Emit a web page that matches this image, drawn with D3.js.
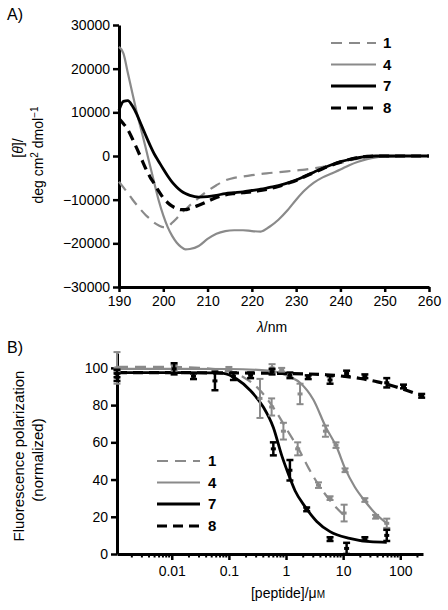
<!DOCTYPE html>
<html><head><meta charset="utf-8">
<script src="https://cdn.jsdelivr.net/npm/d3@7"></script>
<style>
body{margin:0;background:#fff;}
text{font-family:"Liberation Sans",Arial,sans-serif;fill:#000;}
</style></head>
<body><svg id="c" width="448" height="610"></svg>
<script>
// ---------- Panel A data (CD spectra) ----------
const wavelengths = [190,191,192,193,194,195,196,197,198,199,200,201,202,203,204,205,206,208,210,212,214,216,218,220,222,224,226,228,230,232,234,236,238,240,242,244,246,248,250,255,260];
const cd1 = [-5900,-7200,-8500,-9900,-11200,-12400,-13500,-14400,-15300,-15900,-16300,-16200,-15300,-14300,-13200,-12200,-11300,-9600,-8000,-6700,-5600,-5000,-4700,-4400,-4100,-3900,-3700,-3500,-3300,-3100,-2800,-2500,-2000,-1600,-1100,-600,-300,-200,-100,0,0];
const cd4 = [25000,23500,19000,14500,10000,6000,2000,-2200,-6300,-10300,-13600,-16300,-18300,-19800,-20800,-21400,-21300,-20600,-19000,-17800,-17200,-17000,-17000,-17200,-17300,-16200,-14600,-12500,-10000,-7800,-6100,-4900,-4000,-3100,-2100,-1300,-700,-300,-100,0,0];
const cd7 = [10500,12500,12700,11500,9600,7200,4800,2500,400,-1300,-3000,-4600,-6000,-7100,-8000,-8600,-9000,-9400,-9300,-9000,-8600,-8400,-8200,-7900,-7600,-7200,-6800,-6200,-5500,-4600,-3700,-2800,-2000,-1300,-800,-400,-100,0,0,0,0];
const cd8 = [8600,7400,6000,4000,1800,-500,-2800,-4800,-6400,-8100,-9600,-10700,-11500,-12000,-12300,-12300,-12000,-11300,-10400,-9500,-8900,-8600,-8400,-8200,-7900,-7500,-7000,-6300,-5600,-4700,-3800,-2900,-2100,-1400,-800,-400,-100,0,0,0,0];
const xTicksA = [190,200,210,220,230,240,250,260];
const yTicksA = [-30000,-20000,-10000,0,10000,20000,30000];

// ---------- Panel B data (fluorescence polarization) ----------
const fit1Conc = [0.0011,0.01,0.05,0.1,0.18,0.35,0.59,1.03,1.76,2.5,3.94,6,10.1];
const fit1Val  = [100.5,100.5,99.5,98,95,88,79,67,55,46,36,28.5,21];
const fit4Conc = [0.0011,0.01,0.1,0.5,1,1.76,3,5,7.7,10.8,16,24,36,58];
const fit4Val  = [99.5,99.5,99.4,98.5,96,92,83,68,57.5,46,36,28.5,22,16.5];
const fit7Conc = [0.0011,0.01,0.05,0.08,0.137,0.235,0.4,0.6,0.84,1.1,1.44,2.15,3.45,5.9,13,29.5,58];
const fit7Val  = [97.5,97.5,97.3,97,94,88,79,68,53,43,34,25.5,17.5,12,8.4,6.6,6.3];
const fit8Conc = [0.0011,0.1,1,5,10,20,40,80,240];
const fit8Val  = [97.5,97.3,97,96.3,95.5,94.3,92.5,90,85];

const pts1Conc = [0.0011,0.011,0.1,0.35,0.56,0.9,1.6,3.7,5.9,10.4];
const pts1Val  = [100,100,99.5,83.6,79,66,56.5,37,30,22];
const pts1Err  = [8.5,1.5,1,10.5,4.6,4.5,3.5,1.5,1,4.5];
const pts4Conc = [0.0011,0.57,0.84,1.76,4.9,7.5,10.8,24,37,58];
const pts4Val  = [99,100,99,86,66,58.5,45,29,20,16.5];
const pts4Err  = [1,2,1,5.5,3,1.5,1,1,1,2.5];
const pts7Conc = [0.0011,0.057,0.12,0.24,0.6,1.17,2.3,5.9,11.5,24,58];
const pts7Val  = [95,93,95.5,96,56.5,45,24,8,3,8,10];
const pts7Err  = [2,5,2,1.5,3.5,5.5,1,1,3,1,3];
const pts8Conc = [0.0011,0.011,0.024,0.57,1.17,2.45,5.9,11.5,24,58,114,237];
const pts8Val  = [97,99.5,95.5,98,96,95,93.5,97,95.5,92,90,85];
const pts8Err  = [2,3,1.5,1.5,1.5,1,2,1.5,1,2.5,1,1];

const xTicksB = [0.01,0.1,1,10,100];
const xTickLabelsB = ["0.01","0.1","1","10","100"];
const yTicksB = [0,20,40,60,80,100];

const seriesNames = ["1","4","7","8"];

// ---------- styles ----------
const GRAY = "#8a8a8a";
const styles = {
  "1": {color: GRAY, width: 2.2, dash: "11,7"},
  "4": {color: GRAY, width: 2.2, dash: null},
  "7": {color: "#000", width: 2.8, dash: null},
  "8": {color: "#000", width: 3.2, dash: "10,6"}
};

const svg = d3.select("#c");
const FS = 14;

function styleAxis(g){
  g.selectAll(".domain").attr("stroke","#000").attr("stroke-width",3);
  g.selectAll(".tick line").attr("stroke","#000").attr("stroke-width",2.5);
  g.selectAll(".tick text").style("font-size",FS+"px").attr("fill","#000");
}

// ================= Panel A =================
const xA = d3.scaleLinear([190,260],[119,429]);
const yA = d3.scaleLinear([-30000,30000],[287,25]);

svg.append("g").attr("transform","translate(0,287)")
  .call(d3.axisBottom(xA).tickValues(xTicksA).tickSize(5).tickSizeOuter(0).tickPadding(4))
  .call(styleAxis);
svg.append("g").attr("transform","translate(119,0)")
  .call(d3.axisLeft(yA).tickValues(yTicksA).tickFormat(d3.format("d")).tickSize(6).tickSizeOuter(0).tickPadding(3))
  .call(styleAxis);

const lineA = d3.line().x(d=>xA(d[0])).y(d=>yA(d[1])).curve(d3.curveMonotoneX);
const cdSeries = {"1":cd1,"4":cd4,"8":cd8,"7":cd7};
["1","4","8","7"].forEach(k=>{
  const s = styles[k];
  svg.append("path").datum(wavelengths.map((w,i)=>[w,cdSeries[k][i]]))
    .attr("d",lineA).attr("fill","none").attr("stroke",s.color)
    .attr("stroke-width",s.width).attr("stroke-dasharray",s.dash);
});

// legend A
const legAy = [43,64.5,86,108];
seriesNames.forEach((k,i)=>{
  const s = styles[k];
  svg.append("line").attr("x1",331).attr("x2",376).attr("y1",legAy[i]).attr("y2",legAy[i])
    .attr("stroke",s.color).attr("stroke-width",s.width).attr("stroke-dasharray",s.dash);
  svg.append("text").attr("x",383).attr("y",legAy[i]).attr("dy","0.36em")
    .style("font-size","15px").style("font-weight","bold").text(k);
});

// titles A
svg.append("text").attr("x",7).attr("y",20).style("font-size","16px").text("A)");
const tA = svg.append("text").attr("transform","translate(23,148) rotate(-90)").attr("text-anchor","middle").style("font-size","14px");
tA.append("tspan").text("[");
tA.append("tspan").style("font-style","italic").text("θ");
tA.append("tspan").text("]/");
const tA2 = svg.append("text").attr("transform","translate(43,155) rotate(-90)").attr("text-anchor","middle").style("font-size","14px");
tA2.append("tspan").text("deg cm");
tA2.append("tspan").attr("dy","-5").style("font-size","10px").text("2");
tA2.append("tspan").attr("dy","5").text(" dmol");
tA2.append("tspan").attr("dy","-5").style("font-size","10px").text("−1");
const xtA = svg.append("text").attr("x",272).attr("y",332).attr("text-anchor","middle").style("font-size","14px");
xtA.append("tspan").style("font-style","italic").text("λ");
xtA.append("tspan").text("/nm");

// ================= Panel B =================
const xB = d3.scaleLog([0.0011,250],[117,423]);
const yB = d3.scaleLinear([0,108],[554,353]);

// minor ticks
const minor = [];
[0.001,0.01,0.1,1,10,100].forEach(dec=>{
  for(let m=2;m<=9;m++){ const v=dec*m; if(v>=0.0011 && v<=250) minor.push(v); }
});
const gxB = svg.append("g").attr("transform","translate(0,554)");
gxB.call(d3.axisBottom(xB).tickValues(xTicksB).tickFormat((d,i)=>xTickLabelsB[i]).tickSize(6).tickSizeOuter(0).tickPadding(6))
  .call(styleAxis);
gxB.selectAll(".minor").data(minor).enter().append("line").attr("class","minor")
  .attr("x1",d=>xB(d)).attr("x2",d=>xB(d)).attr("y1",0).attr("y2",3.5)
  .attr("stroke","#000").attr("stroke-width",2);
svg.append("g").attr("transform","translate(117,0)")
  .call(d3.axisLeft(yB).tickValues(yTicksB).tickSize(6).tickSizeOuter(0).tickPadding(3))
  .call(styleAxis);

const lineB = d3.line().x(d=>xB(d[0])).y(d=>yB(d[1])).curve(d3.curveMonotoneX);
const fits = {"1":[fit1Conc,fit1Val],"4":[fit4Conc,fit4Val],"7":[fit7Conc,fit7Val],"8":[fit8Conc,fit8Val]};
const pts = {"1":[pts1Conc,pts1Val,pts1Err],"4":[pts4Conc,pts4Val,pts4Err],"7":[pts7Conc,pts7Val,pts7Err],"8":[pts8Conc,pts8Val,pts8Err]};
["1","4","8","7"].forEach(k=>{
  const s = styles[k];
  const [c,v] = fits[k];
  svg.append("path").datum(c.map((x,i)=>[x,v[i]])).attr("d",lineB)
    .attr("fill","none").attr("stroke",s.color).attr("stroke-width",s.width).attr("stroke-dasharray",s.dash);
});
["1","4","8","7"].forEach(k=>{
  const s = styles[k];
  const [c,v,e] = pts[k];
  const g = svg.append("g").attr("stroke",s.color).attr("stroke-width",k==="1"||k==="4"?2:2.5);
  c.forEach((x,i)=>{
    const px = xB(x), y1 = yB(v[i]+e[i]), y2 = yB(v[i]-e[i]);
    g.append("line").attr("x1",px).attr("x2",px).attr("y1",y1).attr("y2",y2);
    g.append("line").attr("x1",px-3.5).attr("x2",px+3.5).attr("y1",y1).attr("y2",y1);
    g.append("line").attr("x1",px-3.5).attr("x2",px+3.5).attr("y1",y2).attr("y2",y2);
    g.append("rect").attr("x",px-2.5).attr("y",yB(v[i])-1.5).attr("width",5).attr("height",3).attr("fill",s.color).attr("stroke","none");
  });
});

// legend B
const legBy = [461,482.5,504,526];
seriesNames.forEach((k,i)=>{
  const s = styles[k];
  svg.append("line").attr("x1",157).attr("x2",200).attr("y1",legBy[i]).attr("y2",legBy[i])
    .attr("stroke",s.color).attr("stroke-width",s.width).attr("stroke-dasharray",s.dash);
  svg.append("text").attr("x",208).attr("y",legBy[i]).attr("dy","0.36em")
    .style("font-size","15px").style("font-weight","bold").text(k);
});

// titles B
svg.append("text").attr("x",7).attr("y",353).style("font-size","16px").text("B)");
svg.append("text").attr("transform","translate(24,456) rotate(-90)").attr("text-anchor","middle").style("font-size","15px").text("Fluorescence polarization");
svg.append("text").attr("transform","translate(43,460) rotate(-90)").attr("text-anchor","middle").style("font-size","15px").text("(normalized)");
const xtB = svg.append("text").attr("x",288).attr("y",598).attr("text-anchor","middle").style("font-size","14px");
xtB.append("tspan").text("[peptide]/μ");
xtB.append("tspan").style("font-size","10px").text("M");
</script></body></html>
